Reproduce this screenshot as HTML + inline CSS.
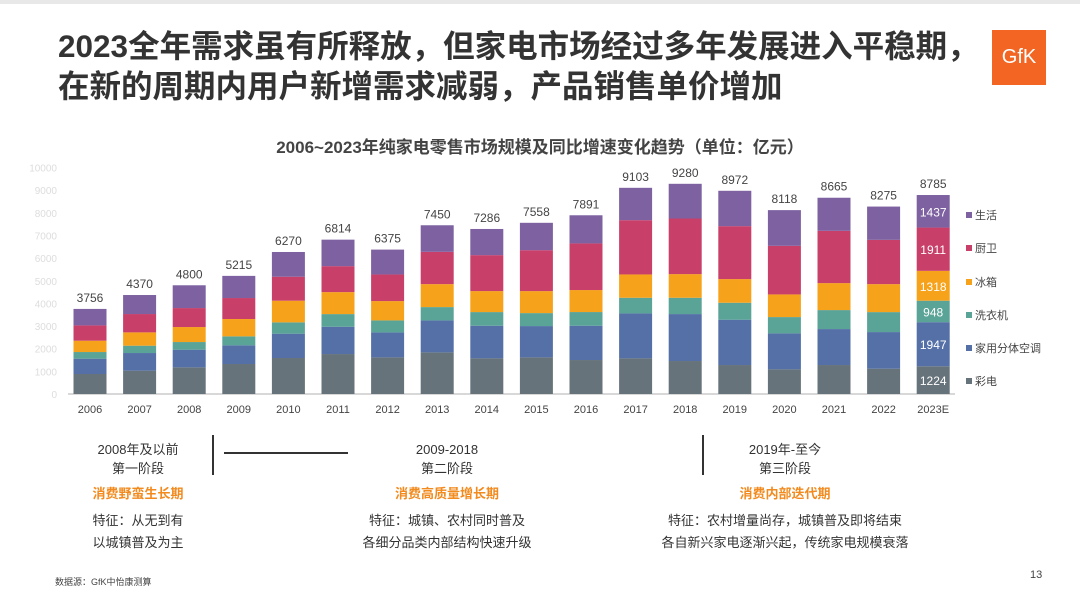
<!DOCTYPE html>
<html><head><meta charset="utf-8"><style>
body{margin:0;width:1080px;height:609px;background:#fff;overflow:hidden;font-family:"Liberation Sans","Noto Sans CJK SC",sans-serif;position:relative}
.t{position:absolute;white-space:nowrap}
.c{transform:translateX(-50%);text-align:center}
</style></head><body>
<div style="position:absolute;left:0;top:0;width:1080px;height:4px;background:#e8e8e8"></div>
<div class="t" style="left:58px;top:26px;font-size:31.5px;font-weight:bold;color:#333;line-height:40px">2023全年需求虽有所释放，但家电市场经过多年发展进入平稳期，<br>在新的周期内用户新增需求减弱，产品销售单价增加</div>
<div style="position:absolute;left:992px;top:30px;width:54px;height:55px;background:#f26522;color:#fff;font-size:20px;line-height:55px;text-align:center">GfK</div>
<div class="t c" style="left:540px;top:133px;font-size:17px;font-weight:bold;color:#444">2006~2023年纯家电零售市场规模及同比增速变化趋势（单位：亿元）</div>
<svg id="chart" width="1080" height="609" style="position:absolute;left:0;top:0"></svg>
<div style="position:absolute;left:212px;top:435px;width:2px;height:40px;background:#333"></div>
<div style="position:absolute;left:224px;top:452px;width:124px;height:1.5px;background:#333"></div>
<div style="position:absolute;left:702px;top:435px;width:2px;height:40px;background:#333"></div>
<div class="t c" style="left:138px;top:440px;font-size:13px;color:#333;line-height:19px">2008年及以前<br>第一阶段<br><span style="color:#f28a1e;font-weight:bold;line-height:32px">消费野蛮生长期</span><br><span style="line-height:22px">特征：从无到有<br>以城镇普及为主</span></div>
<div class="t c" style="left:447px;top:440px;font-size:13px;color:#333;line-height:19px">2009-2018<br>第二阶段<br><span style="color:#f28a1e;font-weight:bold;line-height:32px">消费高质量增长期</span><br><span style="line-height:22px">特征：城镇、农村同时普及<br>各细分品类内部结构快速升级</span></div>
<div class="t c" style="left:785px;top:440px;font-size:13px;color:#333;line-height:19px">2019年-至今<br>第三阶段<br><span style="color:#f28a1e;font-weight:bold;line-height:32px">消费内部迭代期</span><br><span style="line-height:22px">特征：农村增量尚存，城镇普及即将结束<br>各自新兴家电逐渐兴起，传统家电规模衰落</span></div>
<div class="t" style="left:55px;top:575px;font-size:9px;color:#444">数据源：GfK中怡康测算</div>
<div class="t" style="left:1030px;top:569px;font-size:11px;color:#444">13</div>
<script>
const years=["2006","2007","2008","2009","2010","2011","2012","2013","2014","2015","2016","2017","2018","2019","2020","2021","2022","2023E"];
const totals=[3756,4370,4800,5215,6270,6814,6375,7450,7286,7558,7891,9103,9280,8972,8118,8665,8275,8785];
const tv=[883,1030,1177,1324,1589,1764,1617,1838,1573,1617,1500,1573,1456,1279,1088,1279,1117,1224];
const ac=[676,779,779,824,1074,1205,1103,1411,1441,1382,1515,1985,2073,2000,1588,1588,1617,1947];
const washer=[294,324,338,397,500,559,529,588,603,573,603,691,720,750,720,838,882,948];
const fridge=[500,588,662,765,956,970,853,1014,926,970,971,1029,1044,1044,1000,1191,1235,1318];
const kitchen=[676,809,838,927,1059,1147,1176,1426,1588,1808,2059,2397,2455,2338,2146,2308,1955,1911];
const living=[727,840,1006,978,1092,1169,1097,1173,1155,1208,1243,1428,1532,1561,1576,1461,1469,1437];
const seriesNames=["彩电","家用分体空调","洗衣机","冰箱","厨卫","生活"];
const seriesKeys=["tv","ac","washer","fridge","kitchen","living"];
const yTicks=[0,1000,2000,3000,4000,5000,6000,7000,8000,9000,10000];
const series=[tv,ac,washer,fridge,kitchen,living];
const colors=["#67737a","#5470a6","#5aa397","#f7a21b","#c8406a","#7d61a0"];
const svg=document.getElementById('chart');const NS="http://www.w3.org/2000/svg";
const y0=394,kpx=0.02265,x0=90,step=49.6,bw=33;
const Y=v=>y0-v*kpx, X=i=>x0+i*step;
function mk(t,a,txt){const e=document.createElementNS(NS,t);for(const k in a)e.setAttribute(k,a[k]);if(txt!=null)e.textContent=txt;svg.appendChild(e);return e;}
yTicks.forEach(v=>{const e=mk('text',{x:57,y:Y(v)+4,'text-anchor':'end','font-size':10,fill:'#ddd'},v);

});
const ax=mk('line',{x1:68,x2:955,y1:y0,y2:y0,stroke:'#ccc','stroke-width':1.5});


years.forEach((yr,i)=>{let acc=0;
 series.forEach((s,j)=>{const v=s[i];const r=mk('rect',{x:X(i)-bw/2,y:Y(acc+v),width:bw,height:v*kpx,fill:colors[j]});
  
  
  if(i===years.length-1){const l=mk('text',{x:X(i),y:Y(acc+v/2)+5,'text-anchor':'middle','font-size':12,fill:'#fff'},v);
   
   }
  acc+=v;});
 const tl=mk('text',{x:X(i),y:Y(totals[i])-7,'text-anchor':'middle','font-size':12,fill:'#444'},totals[i]);
 
 
 const xl=mk('text',{x:X(i),y:413,'text-anchor':'middle','font-size':11,fill:'#444'},yr);
 
 
});
const legY=[386,353,320,287,253,220];
seriesNames.forEach((n,j)=>{const r=mk('rect',{x:966,y:legY[j]-8,width:6,height:6,fill:colors[j]});
 
 
 const t=mk('text',{x:975,y:legY[j]-1,'font-size':11,fill:'#444'},n);
 
 });
</script>
</body></html>
